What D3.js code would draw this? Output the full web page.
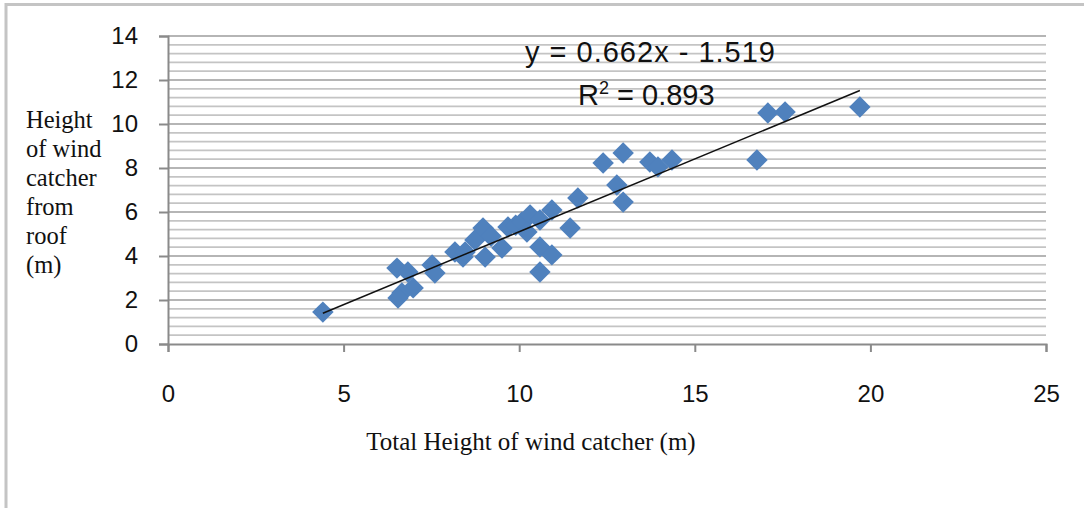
<!DOCTYPE html>
<html>
<head>
<meta charset="utf-8">
<title>wind catcher heights</title>
<script src="https://cdn.jsdelivr.net/npm/d3@7"></script>
<style>
  body { margin: 0; background: #fff; }
  svg { display: block; }
</style>
</head>
<body>
<div id="container"></div>
<script>
// total height of wind catcher (m)
var totalHeight = [4.41, 6.52, 6.83, 6.66, 6.98, 6.55, 7.52, 7.60, 8.17, 8.40,
                   8.46, 8.74, 8.97, 9.03, 9.20, 9.51, 9.68, 9.90, 10.08, 10.31,
                   10.59, 10.22, 10.93, 10.59, 10.93, 10.59, 11.45, 11.67, 12.39, 12.96,
                   12.78, 12.96, 13.72, 13.95, 14.35, 16.77, 17.08, 17.57, 19.70];
// height of wind catcher from roof (m)
var roofHeight  = [1.45, 3.45, 3.27, 2.32, 2.55, 2.09, 3.59, 3.23, 4.18, 3.95,
                   4.18, 4.73, 5.27, 3.95, 4.90, 4.36, 5.32, 5.40, 5.55, 5.86,
                   5.64, 5.09, 6.09, 4.41, 4.05, 3.27, 5.27, 6.64, 8.23, 8.68,
                   7.23, 6.45, 8.27, 8.05, 8.36, 8.36, 10.50, 10.55, 10.77];
var xTicks = [0, 5, 10, 15, 20, 25];
var yTicks = [0, 2, 4, 6, 8, 10, 12, 14];
var slope = 0.662, intercept = -1.519;
var yLabelLines = ["Height", "of wind", "catcher", "from", "roof", "(m)"];

var width = 1084, height = 508;
var svg = d3.select("#container").append("svg")
    .attr("width", width)
    .attr("height", height);

// outer chart border
svg.append("rect")
    .attr("x", 6).attr("y", 4.5)
    .attr("width", 1100).attr("height", 520)
    .attr("fill", "none")
    .attr("stroke", "#c4c4c4")
    .attr("stroke-width", 3);

var x = d3.scaleLinear().domain([0, 25]).range([168, 1046]);
var y = d3.scaleLinear().domain([0, 14]).range([344, 36]);

var pts = totalHeight.map(function(d, i) { return {x: d, y: roofHeight[i]}; });

// gridlines: minor every 0.4, major every 2
var grid = svg.append("g");
grid.selectAll(".minor")
    .data(d3.range(0.4, 14, 0.4).filter(function(v) { return Math.abs(v / 2 - Math.round(v / 2)) > 0.01; }))
    .enter().append("line")
    .attr("class", "minor")
    .attr("x1", x(0)).attr("x2", x(25))
    .attr("y1", function(d) { return y(d); })
    .attr("y2", function(d) { return y(d); })
    .attr("stroke", "#c4c4c4")
    .attr("stroke-width", 1.7);
grid.selectAll(".major")
    .data(yTicks.slice(1))
    .enter().append("line")
    .attr("class", "major")
    .attr("x1", x(0)).attr("x2", x(25))
    .attr("y1", function(d) { return y(d); })
    .attr("y2", function(d) { return y(d); })
    .attr("stroke", "#9c9c9c")
    .attr("stroke-width", 1.7);

// axes
var xAxis = d3.axisBottom(x).tickValues(xTicks).tickSize(8).tickPadding(33);
var yAxis = d3.axisLeft(y).tickValues(yTicks).tickSize(9).tickPadding(21);

svg.append("g")
    .attr("class", "ax")
    .attr("transform", "translate(0," + y(0) + ")")
    .call(xAxis);
svg.append("g")
    .attr("class", "ax")
    .attr("transform", "translate(" + x(0) + ",0)")
    .call(yAxis);

d3.selectAll(".ax .domain").attr("stroke", "#8a8a8a").attr("stroke-width", 2);
d3.selectAll(".ax .tick line").attr("stroke", "#8a8a8a").attr("stroke-width", 2);
d3.selectAll(".ax .tick text")
    .attr("fill", "#111")
    .style("font-family", "'Liberation Sans', Arial, sans-serif")
    .style("font-size", "24px");

// points
svg.append("g").selectAll("path")
    .data(pts)
    .enter().append("path")
    .attr("d", d3.symbol().type(d3.symbolSquare).size(230))
    .attr("transform", function(d) { return "translate(" + x(d.x) + "," + y(d.y) + ") rotate(45)"; })
    .attr("fill", "#4f81bd");

// trendline
var xr = d3.extent(totalHeight);
svg.append("line")
    .attr("x1", x(xr[0])).attr("y1", y(slope * xr[0] + intercept))
    .attr("x2", x(xr[1])).attr("y2", y(slope * xr[1] + intercept))
    .attr("stroke", "#111")
    .attr("stroke-width", 1.5);

// equation
svg.append("text")
    .attr("x", 525).attr("y", 62)
    .attr("textLength", 250)
    .style("font-family", "'Liberation Sans', Arial, sans-serif")
    .style("font-size", "29px")
    .attr("fill", "#111")
    .text("y = 0.662x - 1.519");
var r2 = svg.append("text")
    .attr("x", 578).attr("y", 105)
    .style("font-family", "'Liberation Sans', Arial, sans-serif")
    .style("font-size", "29px")
    .attr("fill", "#111");
r2.append("tspan").text("R");
r2.append("tspan").attr("dy", -11).style("font-size", "18px").text("2");
r2.append("tspan").attr("dy", 11).text(" = 0.893");

// axis titles
svg.append("text")
    .attr("x", 531).attr("y", 450)
    .attr("text-anchor", "middle")
    .style("font-family", "'Liberation Serif', 'Times New Roman', serif")
    .style("font-size", "25px")
    .attr("fill", "#111")
    .text("Total Height of wind catcher (m)");

svg.append("g").selectAll("text")
    .data(yLabelLines)
    .enter().append("text")
    .attr("x", 26)
    .attr("y", function(d, i) { return 128 + i * 29; })
    .style("font-family", "'Liberation Serif', 'Times New Roman', serif")
    .style("font-size", "24.5px")
    .attr("fill", "#111")
    .text(function(d) { return d; });
</script>
</body>
</html>
